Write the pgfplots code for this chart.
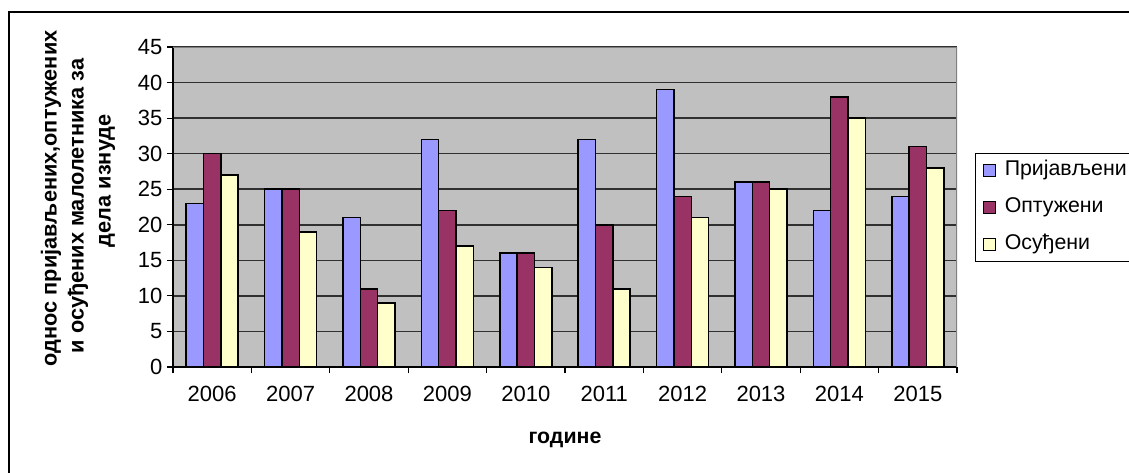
\documentclass[border=0pt]{standalone}
\usepackage{fontspec}
\setmainfont{Liberation Sans}
\usepackage{pgfplots}
\pgfplotsset{compat=1.18}

\definecolor{prijav}{HTML}{9999FF}
\definecolor{optuz}{HTML}{993366}
\definecolor{osudj}{HTML}{FFFFCC}
\definecolor{plotbg}{HTML}{C0C0C0}
\definecolor{gridc}{HTML}{303030}

\begin{document}
\begin{tikzpicture}
\useasboundingbox (-129.75pt,-78.75pt) rectangle (717pt,275.25pt);
% outer chart frame (cut off at right and bottom)
\draw[line width=1.5pt] (-123pt,-90pt) -- (-123pt,266.6pt) -- (730pt,266.6pt);

\begin{axis}[
    scale only axis,
    width=588pt, height=240pt,
    at={(0pt,0pt)}, anchor=south west,
    xmin=-0.5, xmax=9.5,
    ymin=0, ymax=45,
    axis background/.style={fill=plotbg},
    axis lines=left,
    axis line style={-, black, line width=0.8pt},
    ytick={0,5,...,45},
    xtick={0,...,9},
    xticklabels={2006,2007,2008,2009,2010,2011,2012,2013,2014,2015},
    minor xtick={-0.5,0.5,...,9.5},
    major x tick style={draw=none},
    tick align=outside,
    major tick length=4.5pt,
    minor tick length=4.5pt,
    tick style={black, line width=0.8pt},
    ymajorgrids=true,
    grid style={gridc, line width=1.1pt},
    ticklabel style={font=\fontsize{16.5}{19}\selectfont},
    xticklabel style={yshift=-6pt},
    /pgf/number format/assume math mode=true,
    ybar=0pt,
    bar width=13pt,
    legend style={
        at={(rel axis cs:1.023,0.669)}, anchor=north west,
        draw=black, fill=white, line width=0.6pt,
        font=\fontsize{16}{19}\selectfont,
        row sep=7.5pt, inner xsep=3pt, inner ysep=3pt,
        nodes={inner sep=2pt, text height=12pt, text depth=4pt},
    },
    legend cell align=left,
    legend image code/.code={\draw[#1, line width=0.6pt] (3pt,-4.5pt) rectangle (12pt,4.5pt);
        \path[draw=none, fill=none] (0pt,0pt) -- (17pt,0pt);},
]
\addplot[fill=prijav, draw=black, line width=1.1pt] coordinates {
    (0,23) (1,25) (2,21) (3,32) (4,16) (5,32) (6,39) (7,26) (8,22) (9,24)};
\addplot[fill=optuz, draw=black, line width=1.1pt] coordinates {
    (0,30) (1,25) (2,11) (3,22) (4,16) (5,20) (6,24) (7,26) (8,38) (9,31)};
\addplot[fill=osudj, draw=black, line width=1.1pt] coordinates {
    (0,27) (1,19) (2,9) (3,17) (4,14) (5,11) (6,21) (7,25) (8,35) (9,28)};
\legend{Пријављени, Оптужени, Осуђени}
% plot area border on top and right
\draw[gray, line width=1pt] (rel axis cs:0,1) -- (rel axis cs:1,1) -- (rel axis cs:1,0);
\end{axis}

\node[rotate=90, font=\bfseries\fontsize{16.3}{18}\selectfont] at (-91.5pt,126.4pt) {однос пријављених,оптужених};
\node[rotate=90, font=\bfseries\fontsize{16.3}{18}\selectfont] at (-71.25pt,120.75pt) {и осуђених малолетника за};
\node[rotate=90, font=\bfseries\fontsize{16.3}{18}\selectfont] at (-49.5pt,139.7pt) {дела изнуде};
\node[font=\bfseries\fontsize{16}{18}\selectfont] at (294pt,-54.75pt) {године};
\end{tikzpicture}
\end{document}
